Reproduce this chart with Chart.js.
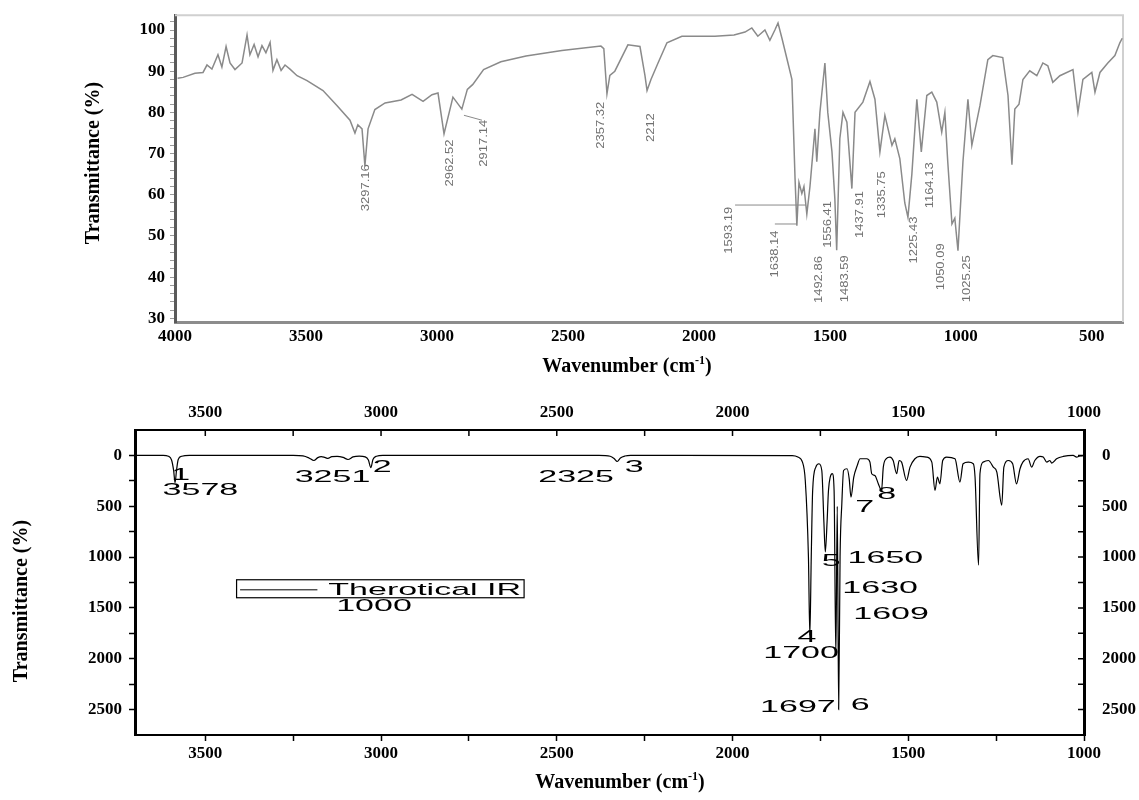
<!DOCTYPE html>
<html>
<head>
<meta charset="utf-8">
<script src="https://cdn.jsdelivr.net/npm/chart.js@4.4.1/dist/chart.umd.min.js"></script>
<style>
  html, body { margin: 0; padding: 0; background: #fff; }
  #wrap { position: relative; width: 1139px; height: 800px; overflow: hidden; }
  canvas { position: absolute; left: 0; }
  #expChart { top: 0; }
  #calcChart { top: 390px; }
</style>
</head>
<body>
<div id="wrap">
  <canvas id="expChart" width="1139" height="390"></canvas>
  <canvas id="calcChart" width="1139" height="410"></canvas>
</div>
<script>
// ---- experimental FTIR spectrum (top panel) ----
const expWavenumber = [3990, 3969, 3924, 3893, 3878, 3859, 3836, 3821, 3805, 3790, 3771, 3744, 3725, 3714, 3698, 3683,
  3668, 3653, 3637, 3626, 3611, 3595, 3580, 3561, 3534, 3496, 3435, 3382, 3332, 3313, 3302, 3286, 3275, 3263, 3237,
  3198, 3137, 3095, 3053, 3019, 2996, 2973, 2939, 2905, 2884, 2863, 2822, 2756, 2660, 2523, 2374, 2363, 2351, 2340,
  2321, 2271, 2225, 2206, 2198, 2183, 2156, 2122, 2065, 1939, 1866, 1824, 1798, 1775, 1748, 1729, 1710, 1698, 1683,
  1660, 1645, 1633, 1626, 1618, 1607, 1599, 1588, 1576, 1557, 1550, 1538, 1519, 1508, 1492, 1481, 1474, 1462, 1450,
  1435, 1416, 1404, 1374, 1347, 1328, 1309, 1290, 1263, 1252, 1233, 1214, 1202, 1187, 1168, 1151, 1130, 1111, 1092,
  1073, 1061, 1050, 1034, 1023, 1011, 992, 973, 958, 927, 897, 878, 840, 820, 805, 794, 778, 763, 737, 710, 687, 668,
  649, 622, 572, 553, 534, 500, 488, 469, 439, 412, 393, 384];
const expTransmittance = [88.3, 88.5, 89.5, 89.7, 91.5, 90.5, 94, 91, 96, 92, 90.4, 92, 98.8, 94, 96.5, 93.5,
  96.2, 94.5, 97, 90.2, 92.8, 90.2, 91.5, 90.5, 88.9, 87.7, 85.3, 81.7, 78.1, 75, 77, 76, 67, 76, 80.7,
  82.3, 83, 84.4, 82.7, 84.3, 84.7, 74.8, 83.7, 80.8, 85.6, 86.8, 90.4, 92.3, 93.7, 95, 96.1, 95.5, 84.5, 89,
  90, 96.4, 96, 89, 85.3, 88, 92, 96.9, 98.5, 98.5, 98.8, 99.5, 100.5, 98.5, 100, 97.5, 100, 101.7, 98,
  92, 88, 64, 52.5, 63, 60.3, 62, 55.3, 62, 76, 68, 80, 92, 80, 70.4, 59, 46.5, 73.6, 80,
  77.6, 61.5, 80, 82.5, 87.5, 83.2, 70.4, 79.3, 72, 73.6, 68.8, 58, 54.5, 65, 83.2, 70.4, 84.1, 84.9, 82.5,
  75.2, 80, 68, 52.9, 54.3, 46.4, 68, 83.2, 72, 81.7, 92.8, 93.8, 93.3, 84.1, 67.3, 80.8, 82, 88, 90.1, 88.9, 92, 91.3,
  87.3, 88.9, 90.4, 80, 88, 89.7, 84.9, 89.7, 92, 93.8, 96.9, 98];
const expTicksX = [4000, 3500, 3000, 2500, 2000, 1500, 1000, 500];
const expTicksY = [30, 40, 50, 60, 70, 80, 90, 100];
const expPeakText = ['3297.16', '2962.52', '2917.14', '2357.32', '2212', '1593.19', '1638.14', '1492.86',
  '1556.41', '1483.59', '1437.91', '1335.75', '1225.43', '1164.13', '1050.09', '1025.25'];
const expPeakX = [3271, 2950, 2820, 2374, 2183, 1885, 1710, 1542, 1507, 1443, 1385, 1301, 1179, 1118, 1076, 977];
const expPeakY = [56.0, 62.0, 66.8, 71.2, 72.8, 45.7, 39.9, 33.7, 47.1, 33.9, 49.5, 54.3, 43.3, 56.7, 36.8, 33.9];
// leader lines: [wn1, T1, wn2, T2]
const expLeaders = [[1862, 57.5, 1591, 57.5], [1710, 52.9, 1626, 52.9], [2897, 79.3, 2828, 78.1]];

// ---- theoretical IR (bottom panel) ----
const calcWavenumber = [3700, 3620, 3605, 3596, 3590, 3586, 3582, 3577, 3567, 3545, 3250, 3222, 3205, 3191, 3180,
  3170, 3160, 3151, 3140, 3125, 3108, 3094, 3080, 3062, 3045, 3036, 3029, 3023, 3013, 2995, 2380, 2348, 2337, 2328,
  2319, 2306, 2290, 1830, 1814, 1801, 1793, 1784, 1780, 1776, 1772, 1763, 1754, 1746, 1740, 1736, 1731, 1727, 1722,
  1716, 1711, 1706, 1702, 1698, 1694, 1689, 1684, 1674, 1668, 1663, 1655, 1645, 1637, 1618, 1609, 1604, 1595, 1585,
  1576, 1571, 1563, 1552, 1543, 1533, 1526, 1519, 1505, 1495, 1481, 1467, 1448, 1433, 1424, 1417, 1410, 1402, 1391,
  1367, 1353, 1344, 1329, 1315, 1310, 1300, 1296, 1287, 1272, 1258, 1248, 1234, 1228, 1215, 1203, 1192, 1182, 1174,
  1159, 1149, 1140, 1125, 1116, 1106, 1097, 1092, 1078, 1059, 1031, 1021, 1012, 1000];
const calcIntensity = [0, 0, 8, 45, 150, 268, 150, 40, 8, 0, 0, 5, 25, 50, 22,
  12, 20, 30, 12, 10, 20, 40, 15, 6, 14, 45, 120, 40, 8, 0, 0, 8, 30, 60,
  25, 6, 0, 2, 16, 66, 246, 1000, 1770, 1000, 345, 115, 82, 148, 656, 950, 656, 345, 213,
  180, 345, 1970, 500, 2500, 1000, 475, 148, 131, 230, 410, 213, 98, 33, 33, 66, 180, 197, 280,
  344, 115, 33, 16, 50, 180, 50, 66, 246, 115, 33, 10, 16, 66, 344, 213, 279, 50, 16,
  33, 262, 82, 66, 82, 213, 1080, 180, 66, 50, 115, 164, 490, 115, 50, 82, 279, 131, 66,
  33, 115, 50, 10, 16, 66, 50, 75, 33, 10, 0, 16, 5, 0];
const calcTicksX = [3500, 3000, 2500, 2000, 1500, 1000];
const calcMinorX = [3500, 3250, 3000, 2750, 2500, 2250, 2000, 1750, 1500, 1250, 1000];
const calcTicksY = [0, 500, 1000, 1500, 2000, 2500];
const calcMinorY = [0, 250, 500, 750, 1000, 1250, 1500, 1750, 2000, 2250, 2500];
const calcPeakText = ['1', '3578', '3251', '2', '2325', '3', '4', '1700', '5', '1650', '1630', '1609',
  '1697', '6', '7', '8', '1000'];
const calcPeakX = [3570, 3514, 3138, 2997, 2445, 2280, 1788, 1805, 1719, 1565, 1580, 1549, 1814, 1637, 1624, 1561, 3020];
const calcPeakY = [197, 344, 220, 115, 213, 121, 1788, 1948, 1040, 1010, 1306, 1567, 2476, 2460, 508, 380, 1486];
const legendText = 'Therotical IR';

const serif = '"Liberation Serif", "Times New Roman", serif';
const sans = '"Liberation Sans", Arial, sans-serif';
const tickFont = { family: serif, weight: 'bold', size: 17 };

function drawWaveTitle(ctx, cx, cy) {
  const big = 'bold 20px ' + serif, small = 'bold 12px ' + serif;
  ctx.font = big;
  const w1 = ctx.measureText('Wavenumber (cm').width;
  const w3 = ctx.measureText(')').width;
  ctx.font = small;
  const w2 = ctx.measureText('-1').width;
  const x0 = cx - (w1 + w2 + w3) / 2;
  ctx.fillStyle = '#000';
  ctx.textAlign = 'left';
  ctx.textBaseline = 'alphabetic';
  ctx.font = big; ctx.fillText('Wavenumber (cm', x0, cy + 7);
  ctx.font = small; ctx.fillText('-1', x0 + w1, cy - 1);
  ctx.font = big; ctx.fillText(')', x0 + w1 + w2, cy + 7);
}

function drawYTitle(ctx, cx, cy) {
  ctx.save();
  ctx.translate(cx, cy);
  ctx.rotate(-Math.PI / 2);
  ctx.fillStyle = '#000';
  ctx.font = 'bold 20px ' + serif;
  ctx.textAlign = 'center';
  ctx.textBaseline = 'middle';
  ctx.fillText('Transmittance (%)', 0, 0);
  ctx.restore();
}

// text of the theoretical panel is horizontally stretched in the original
function wideText(ctx, text, x, y, align) {
  ctx.save();
  ctx.translate(x, y);
  ctx.scale(2, 1);
  ctx.textAlign = align || 'center';
  ctx.fillText(text, 0, 0);
  ctx.restore();
}

const expDecor = {
  id: 'expDecor',
  beforeDatasetsDraw(chart) {
    const { ctx, chartArea: a } = chart;
    ctx.save();
    ctx.strokeStyle = '#d0d0d0';
    ctx.lineWidth = 2;
    ctx.beginPath();
    ctx.moveTo(a.left, a.top);
    ctx.lineTo(a.right, a.top);
    ctx.lineTo(a.right, a.bottom);
    ctx.stroke();
    ctx.restore();
  },
  afterDraw(chart) {
    const { ctx, scales: { x, y } } = chart;
    ctx.save();
    ctx.strokeStyle = '#8a8a8a';
    ctx.lineWidth = 1;
    expLeaders.forEach(([w1, t1, w2, t2]) => {
      ctx.beginPath();
      ctx.moveTo(x.getPixelForValue(w1), y.getPixelForValue(t1));
      ctx.lineTo(x.getPixelForValue(w2), y.getPixelForValue(t2));
      ctx.stroke();
    });
    ctx.fillStyle = '#707070';
    ctx.font = '11px ' + sans;
    ctx.textAlign = 'left';
    ctx.textBaseline = 'middle';
    expPeakText.forEach((t, i) => {
      ctx.save();
      ctx.translate(x.getPixelForValue(expPeakX[i]), y.getPixelForValue(expPeakY[i]));
      ctx.rotate(-Math.PI / 2);
      ctx.scale(1.18, 1);
      ctx.fillText(t, 0, 0);
      ctx.restore();
    });
    drawYTitle(ctx, 94, 163);
    drawWaveTitle(ctx, 627, 365);
    ctx.restore();
  }
};

const calcDecor = {
  id: 'calcDecor',
  afterDraw(chart) {
    const { ctx, chartArea: a, scales: { x, y } } = chart;
    ctx.save();
    // inward ticks on the top and right axes
    ctx.strokeStyle = '#000';
    ctx.lineWidth = 1.5;
    ctx.beginPath();
    calcMinorX.forEach(v => {
      const px = x.getPixelForValue(v);
      ctx.moveTo(px, a.top);
      ctx.lineTo(px, a.top + 6);
    });
    calcMinorY.forEach(v => {
      const py = y.getPixelForValue(v);
      ctx.moveTo(a.right, py);
      ctx.lineTo(a.right - 6, py);
    });
    ctx.stroke();

    ctx.fillStyle = '#000';
    ctx.font = '17px ' + sans;
    ctx.textBaseline = 'middle';
    calcPeakText.forEach((t, i) => {
      wideText(ctx, t, x.getPixelForValue(calcPeakX[i]), y.getPixelForValue(calcPeakY[i]));
    });

    // legend box
    const bx1 = x.getPixelForValue(3411), bx2 = x.getPixelForValue(2593);
    const by1 = y.getPixelForValue(1223), by2 = y.getPixelForValue(1400);
    ctx.lineWidth = 1.2;
    ctx.strokeRect(bx1, by1, bx2 - bx1, by2 - by1);
    const ly = y.getPixelForValue(1322);
    ctx.lineWidth = 1;
    ctx.beginPath();
    ctx.moveTo(x.getPixelForValue(3401), ly);
    ctx.lineTo(x.getPixelForValue(3181), ly);
    ctx.stroke();
    wideText(ctx, legendText, x.getPixelForValue(3150), ly, 'left');

    drawYTitle(ctx, 22, 211);
    drawWaveTitle(ctx, 620, 391);
    ctx.restore();
  }
};

new Chart(document.getElementById('expChart'), {
  type: 'line',
  data: {
    datasets: [{
      data: expWavenumber.map((w, i) => ({ x: w, y: expTransmittance[i] })),
      borderColor: '#8a8a8a',
      borderWidth: 1.5,
      pointRadius: 0,
      tension: 0
    }]
  },
  options: {
    responsive: false,
    animation: false,
    devicePixelRatio: 1,
    layout: { padding: { top: 12, right: 16, left: 0, bottom: 0 } },
    plugins: { legend: { display: false }, tooltip: { enabled: false } },
    scales: {
      x: {
        type: 'linear', reverse: true, min: 381, max: 4000,
        afterBuildTicks: a => { a.ticks = expTicksX.map(v => ({ value: v })); },
        afterFit: a => { a.height = 68; },
        grid: { drawOnChartArea: false, drawTicks: false },
        border: { color: '#8c8c8c', width: 3 },
        ticks: { font: tickFont, color: '#000', padding: 4, maxRotation: 0, autoSkip: false, callback: v => String(v) }
      },
      y: {
        type: 'linear', min: 29.1, max: 103.6,
        afterBuildTicks: a => {
          const t = [];
          for (let v = 30; v <= 102; v += 2) t.push({ value: v });
          a.ticks = t;
        },
        afterFit: a => { a.width = 175; },
        grid: { drawOnChartArea: false, tickLength: 5, tickColor: '#9a9a9a', tickWidth: 1 },
        border: { color: '#5a5a5a', width: 3 },
        ticks: { font: tickFont, color: '#000', padding: 5, autoSkip: false,
          callback: v => expTicksY.includes(v) ? String(v) : '' }
      }
    }
  },
  plugins: [expDecor]
});

new Chart(document.getElementById('calcChart'), {
  type: 'line',
  data: {
    datasets: [{
      data: calcWavenumber.map((w, i) => ({ x: w, y: calcIntensity[i] })),
      borderColor: '#000',
      borderWidth: 1.2,
      pointRadius: 0,
      cubicInterpolationMode: 'monotone',
      xAxisID: 'x',
      yAxisID: 'y'
    }]
  },
  options: {
    responsive: false,
    animation: false,
    devicePixelRatio: 1,
    layout: { padding: 0 },
    plugins: { legend: { display: false }, tooltip: { enabled: false } },
    scales: {
      x: {
        type: 'linear', position: 'bottom', reverse: true, min: 1000, max: 3700,
        afterBuildTicks: a => { a.ticks = calcMinorX.map(v => ({ value: v })); },
        afterFit: a => { a.height = 65; },
        grid: { drawOnChartArea: false, tickLength: 6, tickColor: '#000', tickWidth: 1.5 },
        border: { color: '#000', width: 2 },
        ticks: { font: tickFont, color: '#000', padding: 2, maxRotation: 0, autoSkip: false,
          callback: v => calcTicksX.includes(v) ? String(v) : '' }
      },
      x2: {
        type: 'linear', position: 'top', reverse: true, min: 1000, max: 3700,
        afterBuildTicks: a => { a.ticks = calcTicksX.map(v => ({ value: v })); },
        afterFit: a => { a.height = 40; },
        grid: { drawOnChartArea: false, drawTicks: false },
        border: { color: '#000', width: 2 },
        ticks: { font: tickFont, color: '#000', padding: 7, maxRotation: 0, autoSkip: false, callback: v => String(v) }
      },
      y: {
        type: 'linear', position: 'left', reverse: true, min: -250, max: 2750,
        afterBuildTicks: a => { a.ticks = calcMinorY.map(v => ({ value: v })); },
        afterFit: a => { a.width = 135; },
        grid: { drawOnChartArea: false, tickLength: 6, tickColor: '#000', tickWidth: 1.5 },
        border: { color: '#000', width: 3 },
        ticks: { font: tickFont, color: '#000', padding: 7, autoSkip: false,
          callback: v => calcTicksY.includes(v) ? String(v) : '' }
      },
      y2: {
        type: 'linear', position: 'right', reverse: true, min: -250, max: 2750,
        afterBuildTicks: a => { a.ticks = calcTicksY.map(v => ({ value: v })); },
        afterFit: a => { a.width = 55; },
        grid: { drawOnChartArea: false, drawTicks: false },
        border: { color: '#000', width: 3 },
        ticks: { font: tickFont, color: '#000', padding: 18, autoSkip: false, callback: v => String(v) }
      }
    }
  },
  plugins: [calcDecor]
});
</script>
</body>
</html>
